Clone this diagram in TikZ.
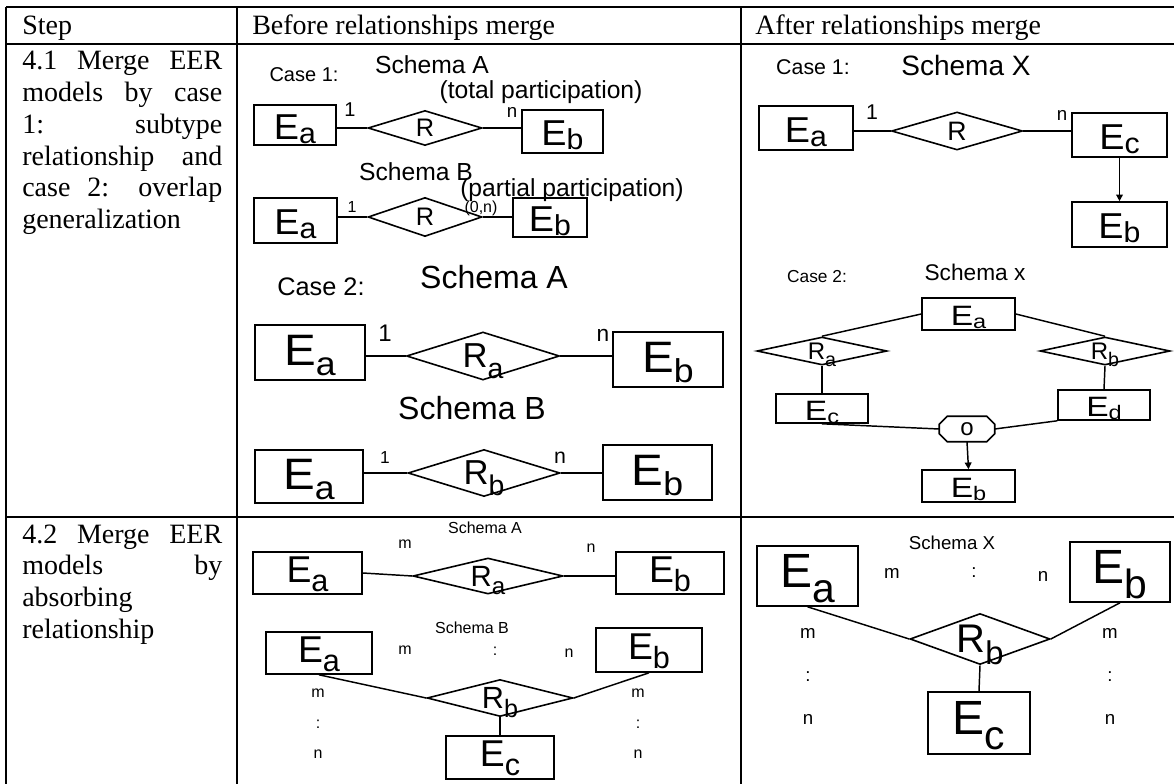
\documentclass[tikz,border=0pt]{standalone}
\usepackage{fontspec}
\setmainfont{Liberation Sans}
\newfontfamily\tnr{Liberation Serif}
\usepackage{graphicx}
\usetikzlibrary{shapes.geometric,arrows.meta,calc}
% #1 letter, #2 subscript, #3 subscript drop (em), #4 subscript scale, #5 horizontal stretch, #6 lowering of the whole (em)
\newcommand\Es[6]{\vphantom{#1}\smash{\raisebox{-#6em}{\scalebox{#5}[1]{#1\raisebox{-#3em}{\scalebox{#4}{#2}}}}}}
\newcommand\EntA[1]{\Es{E}{#1}{.11}{.8}{1.05}{.055}}
\newcommand\EntB[1]{\Es{E}{#1}{.22}{.75}{1.08}{-.045}}
\newcommand\EntC[1]{\Es{E}{#1}{.12}{.7}{1.2}{.07}}
\newcommand\EntD[1]{\Es{E}{#1}{.25}{.82}{1.0}{-.1}}
\newcommand\EntE[1]{\Es{E}{#1}{.31}{.85}{1.0}{-.11}}
\newcommand\Rs[1]{\Es{R}{#1}{.3}{.82}{1.0}{0}}
\begin{document}
\begin{tikzpicture}[x=0.75pt,y=-0.75pt,line join=miter,
  tbl/.style={line width=1.5pt},
  erbox/.style={draw,rectangle,line width=1.2pt,inner sep=0pt},
  bx/.style n args={4}{at={({(#1+#3)/2},{(#2+#4)/2})},minimum width={(#3-#1)*0.75pt},minimum height={(#4-#2)*0.75pt}},
  erdia/.style 2 args={draw,shape=diamond,line width=1.2pt,inner sep=0pt,minimum width=#1*0.75pt,minimum height=#2*0.75pt},
  con/.style={line width=1.1pt},
  arr/.style={con,-{Triangle[length=5pt,width=5pt]}},
  fsz/.style={font=\fontsize{#1pt}{#1pt}\selectfont},
  lbl/.style={inner sep=0pt},
  hdr/.style={font=\tnr\fontsize{21pt}{24pt}\selectfont,inner sep=0pt,anchor=base west}]
\useasboundingbox (0,0) rectangle (1174,784);
% table
\draw[tbl] (6,7) -- (1174,7);
\draw[tbl] (6,44) -- (1174,44);
\draw[tbl] (6,517) -- (1174,517);
\draw[tbl] (6,7) -- (6,784);
\draw[tbl] (237,7) -- (237,784);
\draw[tbl] (741,7) -- (741,784);
% header
\node[hdr] (h1) at (22,35) {Step};
\node[hdr] (h2) at (252,35) {Before relationships merge};
\node[hdr] (h3) at (755,35) {After relationships merge};
% column 1
\node[hdr] (t1) at (22,70) {\makebox[150pt][s]{4.1 Merge EER}};
\node[hdr] (t2) at (22,101.7) {\makebox[150pt][s]{models by case}};
\node[hdr] (t3) at (22,133.4) {\makebox[150pt][s]{1: subtype}};
\node[hdr] (t4) at (22,165.1) {\makebox[150pt][s]{relationship and}};
\node[hdr] (t5) at (22,196.8) {\makebox[150pt][s]{case 2: overlap}};
\node[hdr] (t6) at (22,228.5) {generalization};
\node[hdr] (u1) at (22,543) {\makebox[150pt][s]{4.2 Merge EER}};
\node[hdr] (u2) at (22,574.7) {\makebox[150pt][s]{models by}};
\node[hdr] (u3) at (22,606.4) {absorbing};
\node[hdr] (u4) at (22,638.1) {relationship};
% ---- left, case 1
\node[lbl,fsz=15] (c1l) at (304,75) {Case 1:};
\node[lbl,fsz=18.5] (sa1) at (432,65) {Schema A};
\node[lbl,fsz=18.5] (tp1) at (541,92) {(total participation)};
\node[erbox,fsz=27,bx={254}{105}{336}{145}] (ea1) {\EntA{a}};
\node[lbl,fsz=15] (n1a) at (350,110) {1};
\node[erdia={114}{35},label={[fsz=19]center:R}] (r1) at (425,128) {};
\node[lbl,fsz=14] (n1b) at (512,112) {n};
\node[erbox,fsz=27,bx={522}{110}{603}{153}] (eb1) {\EntA{b}};
\draw[con] (r1.west) -- (r1.west -| ea1.east);
\draw[con] (r1.east) -- (r1.east -| eb1.west);
\node[lbl,fsz=18.5] (sb1) at (416,172) {Schema B};
\node[lbl,fsz=18.5] (pp1) at (572,190) {(partial participation)};
\node[erbox,fsz=27,bx={254}{198}{337}{243}] (ea2) {\EntA{a}};
\node[lbl,fsz=12] (n2a) at (352,207) {1};
\node[erdia={114}{39},label={[fsz=19]center:R}] (r2) at (425,217) {};
\node[lbl,fsz=12] (n2b) at (481,208) {(0,n)};
\node[erbox,fsz=27,bx={513}{198}{587}{237}] (eb2) {\EntA{b}};
\draw[con] (r2.west) -- (r2.west -| ea2.east);
\draw[con] (r2.east) -- (r2.east -| eb2.west);
% ---- left, case 2
\node[lbl,fsz=19] (c2l) at (321,287) {Case 2:};
\node[lbl,fsz=24] (sa2) at (494,277) {Schema A};
\node[erbox,fsz=33,bx={255}{325}{365}{380}] (ea3) {\EntB{a}};
\node[lbl,fsz=18] (n3a) at (385,333) {1};
\node[erdia={153}{48},label={[fsz=26]center:\Rs{a}}] (ra3) at (483,356) {};
\node[lbl,fsz=17] (n3b) at (603,335) {n};
\node[erbox,fsz=33,bx={613}{332}{723}{387}] (eb3) {\EntB{b}};
\draw[con] (ra3.west) -- (ra3.west -| ea3.east);
\draw[con] (ra3.east) -- (ra3.east -| eb3.west);
\node[lbl,fsz=24] (sb2) at (472,408) {Schema B};
\node[erbox,fsz=33,bx={255}{450}{363}{503}] (ea4) {\EntB{a}};
\node[lbl,fsz=13] (n4a) at (385,458) {1};
\node[erdia={152}{47},label={[fsz=26]center:\Rs{b}}] (rb4) at (484,473) {};
\node[lbl,fsz=16] (n4b) at (560,458) {n};
\node[erbox,fsz=33,bx={603}{445}{712}{500}] (eb4) {\EntB{b}};
\draw[con] (rb4.west) -- (rb4.west -| ea4.east);
\draw[con] (rb4.east) -- (rb4.east -| eb4.west);
% ---- right, case 1
\node[lbl,fsz=16] (c1r) at (813,67) {Case 1:};
\node[lbl,fsz=21] (sx1) at (966,65) {Schema X};
\node[erbox,fsz=27,bx={759}{106}{853}{150}] (ea5) {\EntA{a}};
\node[lbl,fsz=16] (n5a) at (872,112) {1};
\node[erdia={131}{38},label={[fsz=20]center:R}] (r5) at (957,131) {};
\node[lbl,fsz=14] (n5b) at (1062,115) {n};
\node[erbox,fsz=27,bx={1072}{113}{1167}{157}] (ec5) {\EntA{c}};
\node[erbox,fsz=27,bx={1072}{202}{1167}{247}] (eb5) {\EntA{b}};
\draw[con] (r5.west) -- (r5.west -| ea5.east);
\draw[con] (r5.east) -- (r5.east -| ec5.west);
\draw[arr] (ec5.south) -- (eb5.north);
% ---- right, case 2
\node[lbl,fsz=13] (c2r) at (817,277) {Case 2:};
\node[lbl,fsz=17] (sx2) at (975,272) {Schema x};
\node[erbox,fsz=21,bx={922}{298}{1015}{330}] (ea6) {\EntC{a}};
\node[erdia={130}{28},label={[fsz=18]center:\Rs{a}}] (ra6) at (822,351) {};
\node[erdia={130}{28},label={[fsz=18]center:\Rs{b}}] (rb6) at (1105,351) {};
\node[erbox,fsz=21,bx={776}{394}{868}{423}] (ec6) {\EntC{c}};
\node[erbox,fsz=21,bx={1058}{390}{1150}{420}] (ed6) {\EntC{d}};
\node[lbl,fsz=18,minimum width=55*0.75pt,minimum height=25*0.75pt] (oc) at (967,429) {o};
\draw[line width=1.2pt] ([xshift=6pt]oc.north west) -- ([xshift=-6pt]oc.north east) -- ([yshift=-6pt]oc.north east) -- ([yshift=6pt]oc.south east) -- ([xshift=-6pt]oc.south east) -- ([xshift=6pt]oc.south west) -- ([yshift=6pt]oc.south west) -- ([yshift=-6pt]oc.north west) -- cycle;
\node[erbox,fsz=21,bx={922}{470}{1015}{502}] (eb6) {\EntC{b}};
\draw[con] (ea6.west) -- (ra6.north);
\draw[con] (ea6.east) -- (rb6.north);
\draw[con] (ra6.south) -- (ec6.north);
\draw[con] (rb6.south) -- (ed6.north);
\draw[con] (ec6.south) -- (oc.west);
\draw[con] (ed6.south west) -- (oc.east);
\draw[arr] (oc.south) -- (eb6.north);
% ---- left, row 2
\node[lbl,fsz=12] (sa7) at (485,528) {Schema A};
\node[lbl,fsz=12] (m7) at (405,544) {m};
\node[lbl,fsz=12] (n7) at (591,548) {n};
\node[erbox,fsz=28,bx={253}{552}{362}{594}] (ea7) {\EntD{a}};
\node[erdia={150}{36},label={[fsz=22]center:\Rs{a}}] (ra7) at (488,576) {};
\node[erbox,fsz=28,bx={616}{552}{724}{594}] (eb7) {\EntD{b}};
\draw[con] (ea7.east) -- (ra7.west);
\draw[con] (ra7.east) -- (ra7.east -| eb7.west);
\node[lbl,fsz=12] (sb8) at (472,628) {Schema B};
\node[erbox,fsz=28,bx={266}{632}{372}{674}] (ea8) {\EntD{a}};
\node[lbl,fsz=12] (m8) at (405,650) {m};
\node[lbl,fsz=12] (k8) at (495,651) {:};
\node[lbl,fsz=12] (n8) at (569,653) {n};
\node[erbox,fsz=28,bx={596}{628}{702}{672}] (eb8) {\EntD{b}};
\node[erdia={146}{37},label={[fsz=23]center:\Rs{b}}] (rb8) at (500,698) {};
\node[erbox,fsz=28,bx={446}{736}{554}{779}] (ec8) {\EntD{c}};
\draw[con] (ea8.south) -- (rb8.west);
\draw[con] (eb8.south) -- (rb8.east);
\draw[con] (rb8.south) -- (ec8.north);
\node[lbl,fsz=12] (lm8) at (318,693) {m};
\node[lbl,fsz=12] (lk8) at (318,724) {:};
\node[lbl,fsz=12] (ln8) at (318,754) {n};
\node[lbl,fsz=12] (rm8) at (638,693) {m};
\node[lbl,fsz=12] (rk8) at (638,724) {:};
\node[lbl,fsz=12] (rn8) at (638,754) {n};
% ---- right, row 2
\node[lbl,fsz=14] (sx9) at (952,543) {Schema X};
\node[erbox,fsz=36,bx={757}{546}{858}{606}] (ea9) {\EntE{a}};
\node[lbl,fsz=14] (m9) at (892,573) {m};
\node[lbl,fsz=14] (k9) at (974,573) {:};
\node[lbl,fsz=14] (n9) at (1043,576) {n};
\node[erbox,fsz=36,bx={1070}{542}{1170}{602}] (eb9) {\EntE{b}};
\node[erdia={140}{51},label={[fsz=30]center:\Rs{b}}] (rb9) at (980,639) {};
\node[erbox,fsz=36,bx={928}{692}{1030}{754}] (ec9) {\EntE{c}};
\draw[con] (ea9.south) -- (rb9.west);
\draw[con] (eb9.south) -- (rb9.east);
\draw[con] (rb9.south) -- (ec9.north);
\node[lbl,fsz=14] (lm9) at (808,633) {m};
\node[lbl,fsz=14] (lk9) at (808,677) {:};
\node[lbl,fsz=14] (ln9) at (808,719) {n};
\node[lbl,fsz=14] (rm9) at (1110,633) {m};
\node[lbl,fsz=14] (rk9) at (1110,677) {:};
\node[lbl,fsz=14] (rn9) at (1110,719) {n};
\end{tikzpicture}
\end{document}
